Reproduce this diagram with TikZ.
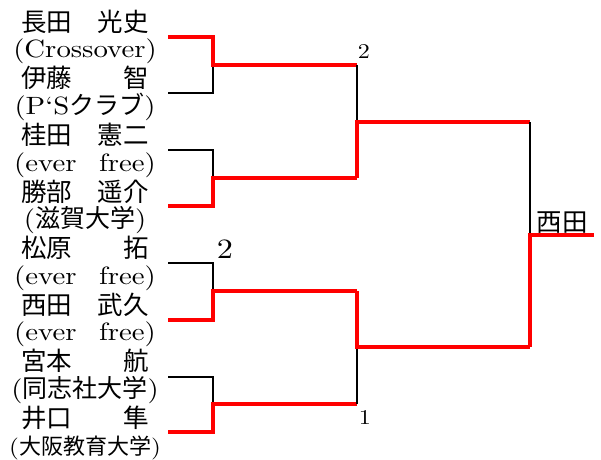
\documentclass[tikz,border=0pt]{standalone}
\usepackage{fontspec}
\usepackage{tikz}
\newfontfamily\jp{Noto Sans CJK JP}
\newfontfamily\lat{lmroman10-regular.otf}[FakeStretch=1.15]

\begin{document}
\begin{tikzpicture}[x=1pt,y=-1pt,
  win/.style={red,line width=4.5pt},
  lose/.style={black,line width=2.6pt},
  player/.style={anchor=base,inner sep=0pt,font=\jp\fontsize{25.5}{28}\selectfont},
  team/.style={anchor=base,inner sep=0pt,font=\lat\fontsize{25}{28}\selectfont},
  seed/.style={anchor=base,inner sep=0pt,font=\lat\fontsize{21}{22}\selectfont}]

\useasboundingbox (0,0) rectangle (601,459);

\newcommand\Y{28.3}
\newcommand\X{85}

% names
\node[player] (n1) at (\X, 31.2+0*\Y) {長田　光史};
\node[team]   (t1) at (\X, 29.5+1*\Y) {(Crossover)};
\node[player] (n2) at (\X, 31.2+2*\Y) {伊藤　　智};
\node[team]   (t2) at (\X, 29.5+3*\Y) {(P‘S{\jp クラブ})};
\node[player] (n3) at (\X, 31.2+4*\Y) {桂田　憲二};
\node[team]   (t3) at (\X, 29.5+5*\Y) {(ever\hspace{0.9em}free)};
\node[player] (n4) at (\X, 31.2+6*\Y) {勝部　遥介};
\node[team]   (t4) at (\X, 29.5+7*\Y) {({\jp 滋賀大学})};
\node[player] (n5) at (\X, 31.2+8*\Y) {松原　　拓};
\node[team]   (t5) at (\X, 29.5+9*\Y) {(ever\hspace{0.9em}free)};
\node[player] (n6) at (\X, 31.2+10*\Y) {西田　武久};
\node[team]   (t6) at (\X, 29.5+11*\Y) {(ever\hspace{0.9em}free)};
\node[player] (n7) at (\X, 31.2+12*\Y) {宮本　　航};
\node[team]   (t7) at (\X, 29.5+13*\Y) {({\jp 同志社大学})};
\node[player] (n8) at (\X, 31.2+14*\Y) {井口　　隼};
\node[team,font=\lat\fontsize{22}{24}\selectfont] (t8) at (\X, 29.5+15*\Y) {({\jp 大阪教育大学})};

\coordinate (p1) at (168,37);
\coordinate (p2) at (168,93);
\coordinate (p3) at (168,150);
\coordinate (p4) at (168,206);
\coordinate (p5) at (168,263);
\coordinate (p6) at (168,320);
\coordinate (p7) at (168,377);
\coordinate (p8) at (168,432);
\coordinate (a1) at (213,65);
\coordinate (a2) at (213,178);
\coordinate (a3) at (213,291);
\coordinate (a4) at (213,404);
\coordinate (s1) at (357,122);
\coordinate (s2) at (357,347);
\coordinate (f) at (530,235);
\coordinate (e) at (594,235);

% first round
\draw[lose] (p2) -| (a1);
\draw[win] (p1) -| (a1) -- (a1 -| s1);
\draw[lose] (p3) -| (a2);
\draw[win] (p4) -| (a2) -- (a2 -| s1);
\draw[lose] (p5) -| (a3);
\draw[win] (p6) -| (a3) -- (a3 -| s2);
\draw[lose] (p7) -| (a4);
\draw[win] (p8) -| (a4) -- (a4 -| s2);

% semifinals
\draw[lose] (a1 -| s1) -- (s1);
\draw[win] (a2 -| s1) -- (s1) -- (s1 -| f);
\draw[lose] (a4 -| s2) -- (s2);
\draw[win] (a3 -| s2) -- (s2) -- (s2 -| f);

% final
\draw[lose] (s1 -| f) -- (f);
\draw[win] (s2 -| f) -- (f) -- (e);

\node[seed] (r1) at (364,58) {2};
\node[seed,font=\lat\fontsize{28}{30}\selectfont] (r2) at (225,258) {2};
\node[seed] (r3) at (365,424) {1};
\node[player] (w) at (562,231) {西田};

\end{tikzpicture}
\end{document}
